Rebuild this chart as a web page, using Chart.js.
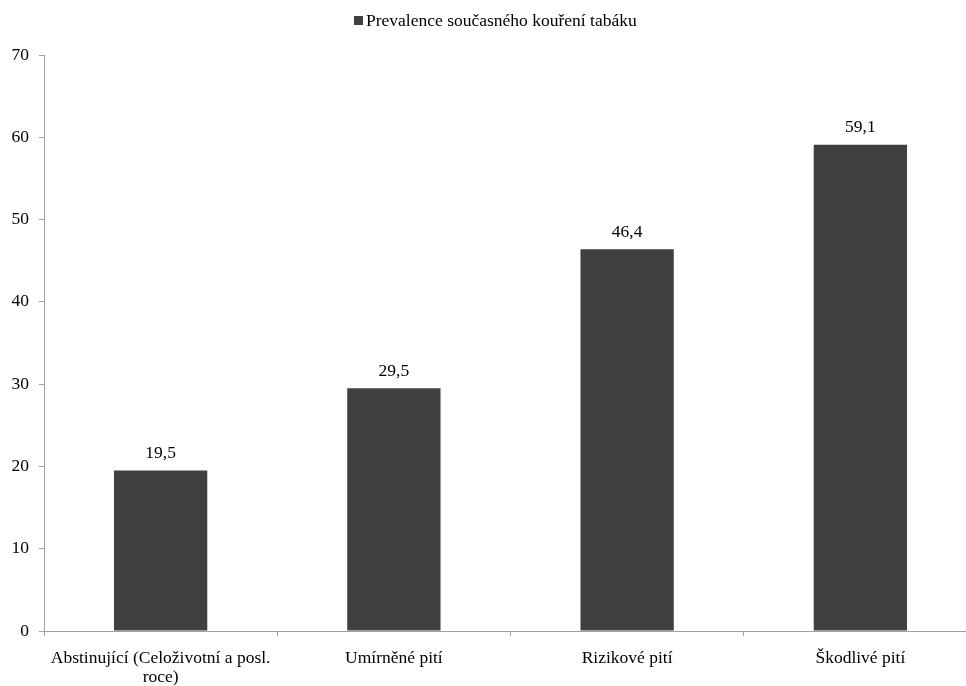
<!DOCTYPE html>
<html lang="cs">
<head>
  <meta charset="UTF-8" />
  <title>Prevalence současného kouření tabáku</title>
  <script src="https://cdn.jsdelivr.net/npm/chart.js"></script>
  <style>
    body {
      margin: 0;
      background: #ffffff;
      font-family: 'Liberation Serif', 'Times New Roman', serif;
    }

    .wrap {
      position: relative;
      width: 966px;
      height: 686px;
      overflow: hidden;
    }

    .chart-box {
      position: absolute;
      left: 0;
      top: 0;
      width: 1000px;
      height: 686px;
    }

    .legend {
      position: absolute;
      top: 10px;
      left: 354px;
      display: flex;
      align-items: center;
      font-size: 17.5px;
      line-height: 20px;
      color: #000;
      white-space: nowrap;
    }

    .legend span.box {
      display: inline-block;
      width: 9px;
      height: 9px;
      background: #404040;
      margin-right: 3px;
    }
  </style>
</head>
<body>
  <div class="wrap">
    <div class="chart-box">
      <canvas id="smokeChart" width="1000" height="686"></canvas>
    </div>
    <div class="legend"><span class="box"></span>Prevalence současného kouření tabáku</div>
  </div>

  <script>
    const categories = [
      ['Abstinující (Celoživotní a posl.', 'roce)'],
      'Umírněné pití',
      'Rizikové pití',
      'Škodlivé pití'
    ];
    const smokingPrevalence = [19.5, 29.5, 46.4, 59.1];
    const yTicks = [0, 10, 20, 30, 40, 50, 60, 70];

    const serif = "'Liberation Serif', 'Times New Roman', serif";

    // value labels above bars, decimal comma
    const valueLabels = {
      id: 'valueLabels',
      afterDatasetsDraw(chart) {
        const ctx = chart.ctx;
        const meta = chart.getDatasetMeta(0);
        ctx.save();
        ctx.font = '17.5px ' + serif;
        ctx.fillStyle = '#000';
        ctx.textAlign = 'center';
        ctx.textBaseline = 'alphabetic';
        meta.data.forEach((bar, i) => {
          const txt = smokingPrevalence[i].toFixed(1).replace('.', ',');
          ctx.fillText(txt, bar.x, bar.y - 12.5);
        });
        ctx.restore();
      }
    };

    new Chart(document.getElementById('smokeChart'), {
      type: 'bar',
      data: {
        labels: categories,
        datasets: [{
          label: 'Prevalence současného kouření tabáku',
          data: smokingPrevalence,
          backgroundColor: '#404040',
          categoryPercentage: 1,
          barPercentage: 0.4
        }]
      },
      options: {
        responsive: false,
        animation: false,
        layout: { padding: { top: 55, right: 23, left: 0, bottom: 0 } },
        plugins: {
          legend: { display: false },
          tooltip: { enabled: false }
        },
        scales: {
          x: {
            grid: {
              display: true,
              drawOnChartArea: false,
              offset: true,
              tickLength: 5,
              color: '#a0a0a0'
            },
            border: { display: true, color: '#a0a0a0', width: 1 },
            ticks: {
              color: '#000',
              padding: 13,
              maxRotation: 0,
              autoSkip: false,
              font: { family: serif, size: 17.5, lineHeight: 1.08 }
            },
            afterFit: s => { s.height = 55; }
          },
          y: {
            min: 0,
            max: 70,
            afterBuildTicks: s => { s.ticks = yTicks.map(v => ({ value: v })); },
            grid: {
              display: true,
              drawOnChartArea: false,
              tickLength: 5,
              color: '#a0a0a0'
            },
            border: { display: true, color: '#a0a0a0', width: 1 },
            ticks: {
              color: '#000',
              padding: 10,
              font: { family: serif, size: 17.5 }
            },
            afterFit: s => { s.width = 44; }
          }
        }
      },
      plugins: [valueLabels]
    });
  </script>
</body>
</html>
